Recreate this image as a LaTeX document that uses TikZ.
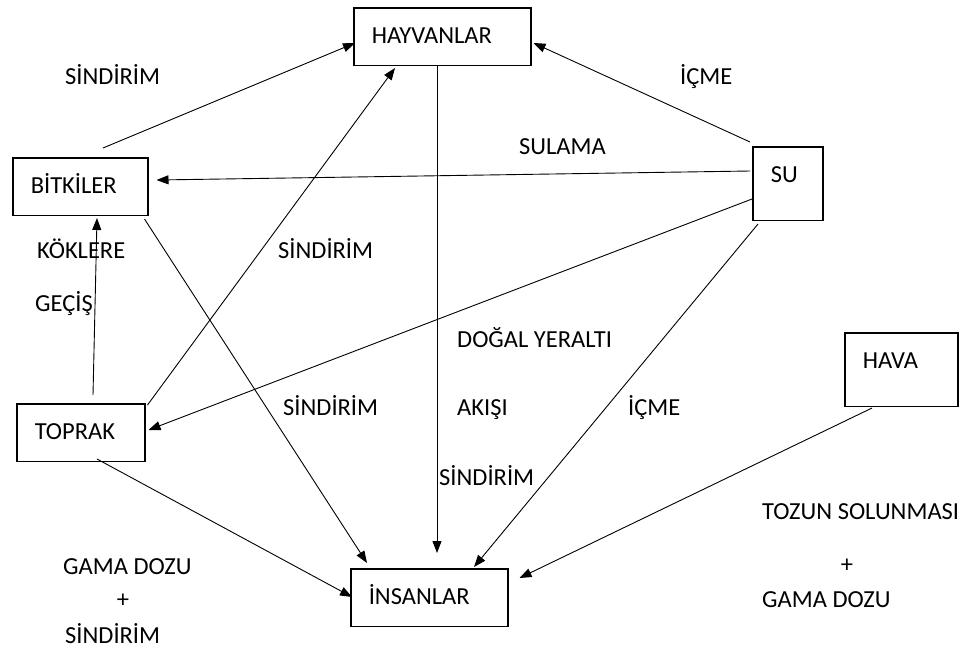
\documentclass[tikz,border=0pt]{standalone}
\usepackage{fontspec}
\setmainfont{Carlito}
\usetikzlibrary{arrows.meta}
\tikzset{>={Triangle[length=12pt,width=9pt]}}

\begin{document}
\begin{tikzpicture}[x=1pt,y=-1pt,
    every node/.style={font=\fontsize{24.5}{29}\selectfont},
    box/.style={draw,line width=1.5pt,inner xsep=18pt,inner ysep=0pt,
      text height=35.5pt,text depth=22pt,align=left,anchor=north west},
    tallbox/.style={box,text depth=38pt},
    lbl/.style={anchor=base west,inner sep=0pt},
    arr/.style={->,line width=0.9pt}]

  \useasboundingbox (0,0) rectangle (973,651);

  % boxes
  \node[box,text width=141pt] (hayvanlar) at (353,7) {HAYVANLAR};
  \node[box,text width=99pt] (bitkiler) at (12,157) {BİTKİLER};
  \node[tallbox,text width=34pt] (su) at (752,146) {SU};
  \node[box,text width=92pt] (toprak) at (16,403) {TOPRAK};
  \node[box,text width=121pt] (insanlar) at (350,568) {İNSANLAR};
  \node[tallbox,text width=77pt] (hava) at (844,332) {HAVA};

  % arrows
  \draw[arr] % bitkiler -> hayvanlar
    ([shift={(91,-9)}]bitkiler.north west) -- ([shift={(2,36)}]hayvanlar.north west);
  \draw[arr] % toprak -> hayvanlar
    ([shift={(2,2)}]toprak.north east) -- ([shift={(42,2)}]hayvanlar.south west);
  \draw[arr] % hayvanlar -> insanlar
    ([shift={(84,0)}]hayvanlar.south west) -- ([shift={(87,-15)}]insanlar.north west);
  \draw[arr] % su -> hayvanlar
    ([shift={(-2,-4)}]su.north west) -- ([shift={(2,36)}]hayvanlar.north east);
  \draw[arr] % su -> bitkiler
    ([shift={(-2,25)}]su.north west) -- ([shift={(8,23)}]bitkiler.north east);
  \draw[arr] % su -> toprak
    ([shift={(0,53)}]su.north west) -- ([shift={(3,27)}]toprak.north east);
  \draw[arr] % su -> insanlar
    ([shift={(6,3)}]su.south west) -- ([shift={(124,-1)}]insanlar.north west);
  \draw[arr] % bitkiler -> insanlar
    ([shift={(-4,3)}]bitkiler.south east) -- ([shift={(17,-5)}]insanlar.north west);
  \draw[arr] % toprak -> bitkiler
    ([shift={(77,-8)}]toprak.north west) -- ([shift={(85,2)}]bitkiler.south west);
  \draw[arr] % toprak -> insanlar
    ([shift={(81,-3)}]toprak.south west) -- ([shift={(2,29)}]insanlar.north west);
  \draw[arr] % hava -> insanlar
    ([shift={(28,1)}]hava.south west) -- ([shift={(11,10)}]insanlar.north east);

  % labels
  \node[lbl] (sindirim1) at (65,84) {SİNDİRİM};
  \node[lbl] (icme1) at (680,84) {İÇME};
  \node[lbl] (sulama) at (519,154) {SULAMA};
  \node[lbl] (koklere) at (37,258) {KÖKLERE};
  \node[lbl] (gecis) at (35,311) {GEÇİŞ};
  \node[lbl] (sindirim2) at (278,258) {SİNDİRİM};
  \node[lbl] (dogal) at (457,347) {DOĞAL YERALTI};
  \node[lbl] (akisi) at (457,415) {AKIŞI};
  \node[lbl] (sindirim3) at (283,415) {SİNDİRİM};
  \node[lbl] (sindirim4) at (439,485) {SİNDİRİM};
  \node[lbl] (icme2) at (628,415) {İÇME};
  \node[lbl] (gama1) at (63,574) {GAMA DOZU};
  \node[anchor=base,inner sep=0pt] (arti1) at (123,607) {+};
  \node[lbl] (sindirim5) at (65,643) {SİNDİRİM};
  \node[lbl] (tozun) at (762,519) {TOZUN SOLUNMASI};
  \node[anchor=base,inner sep=0pt] (arti2) at (847,572) {+};
  \node[lbl] (gama2) at (762,607) {GAMA DOZU};

\end{tikzpicture}
\end{document}
